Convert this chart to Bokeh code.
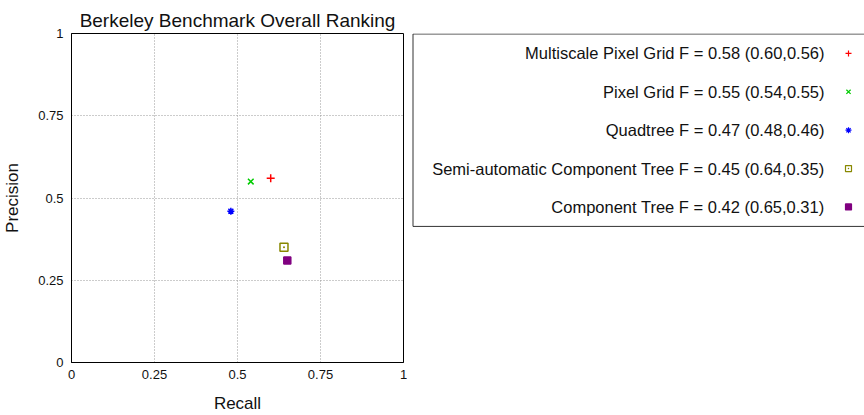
from bokeh.plotting import figure
from bokeh.layouts import row
from bokeh.models import Range1d, FixedTicker
from bokeh.core.properties import value
from bokeh.embed import file_html
from bokeh.resources import INLINE

# ---- data ----
names = ["Multiscale Pixel Grid", "Pixel Grid", "Quadtree",
         "Semi-automatic Component Tree", "Component Tree"]
fscore = [0.58, 0.55, 0.47, 0.45, 0.42]
recall = [0.60, 0.54, 0.48, 0.64, 0.65]
precision = [0.56, 0.55, 0.46, 0.35, 0.31]
ticks = [0, 0.25, 0.5, 0.75, 1]
tick_labels = {0: "0", 0.25: "0.25", 0.5: "0.5", 0.75: "0.75", 1: "1"}

# ---- styles ----
colors = ["#ff0000", "#00cc00", "#0000ff", "#888800", "#800080"]
markers = ["cross", "x", "asterisk", "square_dot", "square"]
fills = [None, None, None, None, "#800080"]
sizes = [8, 8, 7, 8, 7]
FONT = "Liberation Sans"

H = 415
FT, FH = 33, 330          # frame top / height (page px)
W1 = 407
W2 = 864 - W1

p = figure(width=W1, height=H, output_backend="svg", toolbar_location=None,
           x_range=Range1d(0, 1), y_range=Range1d(0, 1),
           min_border_left=70, min_border_right=4, min_border_top=FT,
           min_border_bottom=H - FT - FH,
           title="Berkeley Benchmark Overall Ranking")
p.title.align = "center"
p.title.text_font = FONT
p.title.text_font_size = "19px"
p.title.text_font_style = "normal"
p.title.text_color = "#111111"
p.title.standoff = 6

for ax in (p.xaxis, p.yaxis):
    ax.ticker = FixedTicker(ticks=ticks)
    ax.major_label_overrides = tick_labels
    ax.major_tick_in = 0
    ax.major_tick_out = 0
    ax.minor_tick_line_color = None
    ax.major_label_text_font = FONT
    ax.major_label_text_font_size = "13px"
    ax.major_label_text_color = "#111111"
    ax.axis_label_text_font = FONT
    ax.axis_label_text_font_size = "17px"
    ax.axis_label_text_font_style = "normal"
    ax.axis_label_text_color = "#111111"
    ax.axis_line_color = "black"
p.xaxis.axis_label = "Recall"
p.yaxis.axis_label = "Precision"
p.xaxis.major_label_standoff = 7
p.xaxis.axis_label_standoff = 12
p.yaxis.major_label_standoff = 8
p.yaxis.axis_label_standoff = 13
p.yaxis.major_label_orientation = "horizontal"

for g in (p.xgrid, p.ygrid):
    g.grid_line_color = "#999999"
    g.grid_line_dash = "1 2"
    g.grid_line_width = 1
p.outline_line_color = "black"
p.outline_line_width = 1
p.background_fill_color = "white"
p.border_fill_color = "white"

for i in range(len(names)):
    p.scatter([recall[i]], [precision[i]], marker=markers[i], size=sizes[i],
              line_color=colors[i], fill_color=fills[i], line_width=1.5)

# ---- legend panel (frame aligned with main frame; coords in page px) ----
lg = figure(width=W2, height=H, output_backend="svg", toolbar_location=None,
            x_range=Range1d(W1, 864), y_range=Range1d(FT + FH, FT),
            min_border_left=0, min_border_right=0,
            min_border_top=FT, min_border_bottom=H - FT - FH,
            x_axis_type=None, y_axis_type=None)
lg.xgrid.visible = False
lg.ygrid.visible = False
lg.outline_line_color = None
lg.border_fill_color = "white"
lg.background_fill_color = "white"

lg.quad(left=[412.5], right=[900], top=[33.5], bottom=[226.5],
        fill_color=None, line_color="#333333", line_width=1)

labels = [f"{n} F = {f:.2f} ({r:.2f},{q:.2f})"
          for n, f, r, q in zip(names, fscore, recall, precision)]
rows_y = [53 + 38.5 * i for i in range(len(names))]
lg.text(x=[824] * len(labels), y=rows_y, text=labels,
        text_align="right", text_baseline="middle",
        text_font=value(FONT), text_font_size="16.5px", text_color="#111111")
for i in range(len(names)):
    lg.scatter([848], [rows_y[i]], marker=markers[i], size=6,
               line_color=colors[i], fill_color=fills[i], line_width=1.2)

layout = row(p, lg)
open("out.html", "w").write(file_html(layout, INLINE))
